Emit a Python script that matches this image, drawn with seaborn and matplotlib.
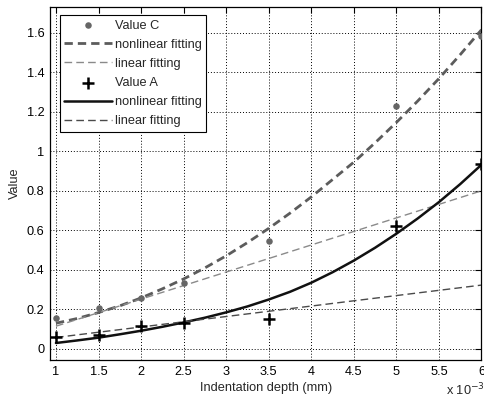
import matplotlib
matplotlib.use("Agg")
import matplotlib.pyplot as plt
import seaborn as sns
import numpy as np
import pandas as pd

# ---- data (indentation depth in mm) ----
depth_pts = [0.001, 0.0015, 0.002, 0.0025, 0.0035, 0.005, 0.006]
value_c = [0.157, 0.205, 0.256, 0.332, 0.545, 1.23, 1.585]
value_a = [0.062, 0.072, 0.114, 0.132, 0.152, 0.623, 0.935]

depth_fit = [0.001, 0.00125, 0.0015, 0.00175, 0.002, 0.00225, 0.0025, 0.00275,
             0.003, 0.00325, 0.0035, 0.00375, 0.004, 0.00425, 0.0045, 0.00475,
             0.005, 0.00525, 0.0055, 0.00575, 0.006]
c_nonlinear = [0.130, 0.154, 0.184, 0.218, 0.258, 0.304, 0.354, 0.410, 0.471, 0.538,
               0.610, 0.687, 0.769, 0.857, 0.945, 1.043, 1.146, 1.254, 1.368, 1.489, 1.615]
a_nonlinear = [0.030, 0.043, 0.057, 0.074, 0.092, 0.112, 0.134, 0.158, 0.185, 0.215,
               0.250, 0.289, 0.335, 0.388, 0.447, 0.512, 0.583, 0.660, 0.743, 0.834, 0.932]

depth_lin = [0.001, 0.006]
c_linear = [0.115, 0.800]
a_linear = [0.058, 0.323]

x_ticks = [0.001, 0.0015, 0.002, 0.0025, 0.003, 0.0035, 0.004, 0.0045, 0.005, 0.0055, 0.006]
x_tick_labels = ["1", "1.5", "2", "2.5", "3", "3.5", "4", "4.5", "5", "5.5", "6"]
y_ticks = [0, 0.2, 0.4, 0.6, 0.8, 1.0, 1.2, 1.4, 1.6]
y_tick_labels = ["0", "0.2", "0.4", "0.6", "0.8", "1", "1.2", "1.4", "1.6"]

sns.set_style("white")
plt.rcParams['font.family'] = ['Liberation Sans', 'DejaVu Sans']

FS = 9.2

fig = plt.figure(figsize=(4.85, 3.99), dpi=100)
ax = fig.add_axes([50/485, 39/399, 431.5/485, 353/399])

pts = pd.DataFrame({"x": depth_pts, "C": value_c, "A": value_a})
fit = pd.DataFrame({"x": depth_fit, "cn": c_nonlinear, "an": a_nonlinear})
lin = pd.DataFrame({"x": depth_lin, "cl": c_linear, "al": a_linear})

sns.scatterplot(data=pts, x="x", y="C", ax=ax, color="#666666", marker="o",
                s=22, edgecolor="#666666", linewidth=0, label="Value C", zorder=4)
sns.lineplot(data=fit, x="x", y="cn", ax=ax, color="#5c5c5c", linewidth=2.0,
             label="nonlinear fitting", zorder=3)
ax.lines[-1].set_dashes([3, 1.8])
sns.lineplot(data=lin, x="x", y="cl", ax=ax, color="#8a8a8a", linewidth=1.0,
             label="linear fitting", zorder=3)
ax.lines[-1].set_dashes([5.5, 3])
sns.scatterplot(data=pts, x="x", y="A", ax=ax, color="black", marker="+",
                s=70, linewidth=1.8, label="Value A", zorder=4)
sns.lineplot(data=fit, x="x", y="an", ax=ax, color="#111111", linewidth=1.8,
             label="nonlinear fitting", zorder=3)
sns.lineplot(data=lin, x="x", y="al", ax=ax, color="#4a4a4a", linewidth=1.0,
             label="linear fitting", zorder=3)
ax.lines[-1].set_dashes([5.5, 3])

ax.set_xlim(0.00093, 0.006)
ax.set_ylim(-0.056, 1.73)
ax.set_xticks(x_ticks)
ax.set_xticklabels(x_tick_labels)
ax.set_yticks(y_ticks)
ax.set_yticklabels(y_tick_labels)

ax.grid(True, color="black", linestyle=(0, (1, 2)), linewidth=0.7)
ax.tick_params(direction="in", length=4, width=0.8, labelsize=FS,
               top=True, right=True, colors="black", pad=4)
for s in ax.spines.values():
    s.set_color("black")
    s.set_linewidth(0.9)

ax.set_xlabel("Indentation depth (mm)", fontsize=FS, labelpad=3.5)
ax.set_ylabel("Value", fontsize=FS, labelpad=4)
ax.text(1.008, -0.062, r"x 10$^{-3}$", transform=ax.transAxes, fontsize=FS,
        ha="right", va="top")

handles, labels = ax.get_legend_handles_labels()
leg = ax.legend(handles, labels, loc="upper left", bbox_to_anchor=(0.023, 0.977),
                borderaxespad=0, fontsize=FS, handlelength=3.7, labelspacing=0.56,
                handletextpad=0.25, frameon=True, fancybox=False, borderpad=0.35)
leg.get_frame().set_edgecolor("black")
leg.get_frame().set_linewidth(0.8)
leg.get_frame().set_alpha(1)

fig.savefig("out.png", dpi=100, facecolor="white")
